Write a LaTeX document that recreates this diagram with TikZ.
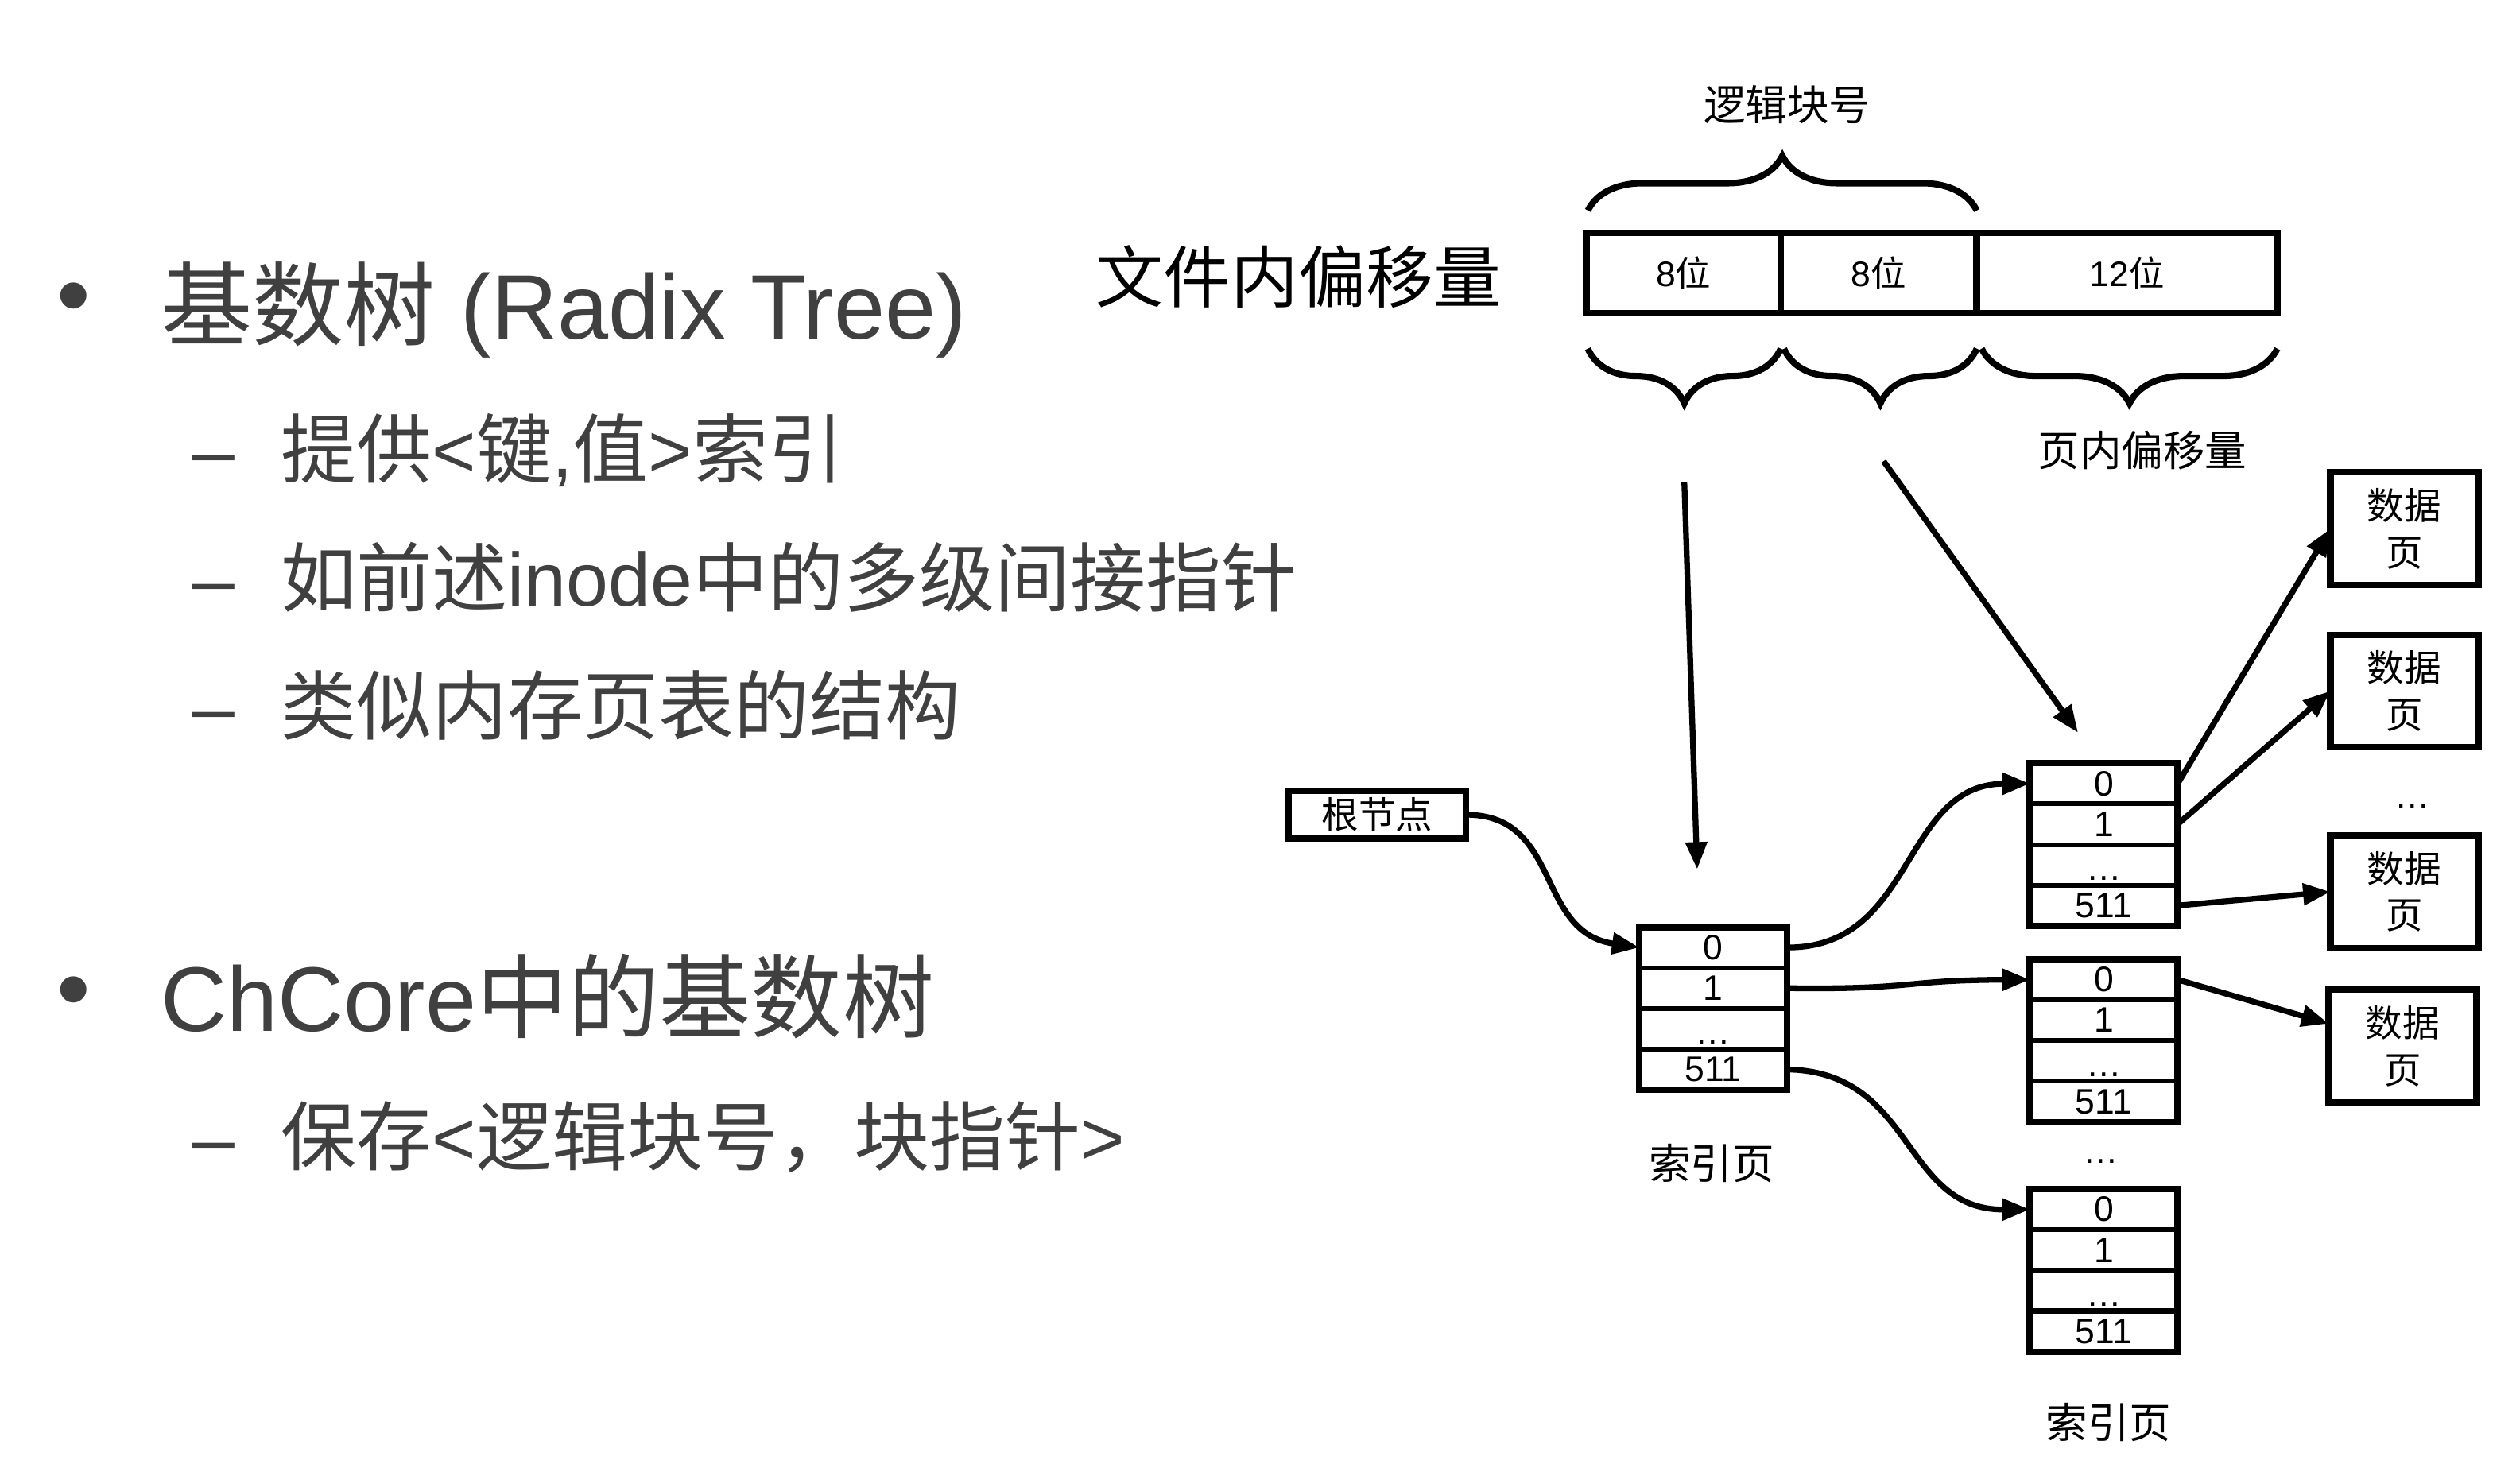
\documentclass[tikz,border=0pt]{standalone}
\usepackage{fontspec}
\setmainfont{Liberation Sans}
\newfontfamily\cjk{Noto Sans CJK SC}
\usetikzlibrary{arrows.meta,decorations.pathreplacing,calc}
\definecolor{txtgray}{HTML}{404040}
\newcommand\fs[1]{\fontsize{#1}{#1}\selectfont}
\newcommand\idxpage[3]{%
  \node[cell] (#1-0) at (#2,{#3+12.65}) {0};
  \node[cell] (#1-1) at (#2,{#3+37.95}) {1};
  \node[cell] (#1-d) at (#2,{#3+63.25}) {};
  \node[cell] (#1-511) at (#2,{#3+88.55}) {511};
  \node[font=\fs{22}, anchor=base] (#1-dots) at ($(#1-d.south)+(0,-3)$) {…};
  \draw[frame] (#1-0.north west) rectangle (#1-511.south east);
}
\begin{document}
\begin{tikzpicture}[x=1pt,y=-1pt,
  every node/.style={inner sep=0pt, outer sep=0pt},
  cell/.style={draw, line width=3pt, minimum width=92pt, minimum height=25.3pt, font=\fs{22}},
  frame/.style={draw, line width=4pt},
  bits/.style={draw, line width=4.2pt, minimum height=50pt, font=\fs{22}},
  dpage/.style={draw, line width=4pt, minimum width=92pt, minimum height=70pt, align=center, font=\cjk\fs{23}, execute at begin node=\setlength{\baselineskip}{29pt}},
  conn/.style={line width=3.6pt, -{Triangle[length=17pt,width=13pt]}},
  brc/.style={line width=4pt, decorate, decoration={brace, amplitude=34pt}},
  bul/.style={text=txtgray, anchor=base west},
  lbl/.style={font=\cjk\fs{26}}]
\useasboundingbox (0,0) rectangle (1568,915.6);

% ---------- left text ----------
\node[text=txtgray, font=\fs{60}] (b1dot) at (46,190) {•};
\node[bul, font=\fs{57}] (t1) at (100,211) {{\cjk 基数树} (Radix Tree)};
\node[bul, font=\fs{47}] (s1dash) at (120,297) {–};
\node[bul, font=\fs{47}] (s1) at (175,297) {{\cjk 提供}<{\cjk 键},{\cjk 值}>{\cjk 索引}};
\node[bul, font=\fs{47}] (s2dash) at (120,377) {–};
\node[bul, font=\fs{47}] (s2) at (175,377) {{\cjk 如前述}inode{\cjk 中的多级间接指针}};
\node[bul, font=\fs{47}] (s3dash) at (120,457) {–};
\node[bul, font=\fs{47}] (s3) at (175,457) {\cjk 类似内存页表的结构};
\node[text=txtgray, font=\fs{60}] (b2dot) at (46,622) {•};
\node[bul, font=\fs{57}] (t2) at (100,642) {ChCore{\cjk 中的基数树}};
\node[bul, font=\fs{47}] (s4dash) at (120,725) {–};
\node[bul, font=\fs{47}] (s4) at (175,725) {{\cjk 保存}<{\cjk 逻辑块号，块指针}>};

% ---------- bit layout ----------
\node[font=\cjk\fs{42}] (fileoff) at (808,172) {文件内偏移量};
\node[bits, minimum width=121pt] (bA) at (1047.5,170) {8{\cjk 位}};
\node[bits, minimum width=122pt] (bB) at (1169,170) {8{\cjk 位}};
\node[bits, minimum width=187pt] (bC) at (1323.5,170) {12{\cjk 位}};
\draw[brc] (988,131) -- (1230,131);
\node[lbl] (lblk) at (1112,65) {逻辑块号};
\draw[brc, decoration={mirror}] (988,217) -- (1108,217);
\draw[brc, decoration={mirror}] (1110,217) -- (1230,217);
\draw[brc, decoration={mirror}] (1233,217) -- (1417,217);
\node[lbl] (pgoff) at (1333,280) {页内偏移量};

% ---------- tree ----------
\node[draw, line width=4pt, minimum width=110pt, minimum height=30pt, font=\cjk\fs{23}] (root) at (857,507) {根节点};
\idxpage{p1}{1066}{577}
\node[lbl] (lp1) at (1065,724) {索引页};
\idxpage{p2}{1309}{475}
\idxpage{p3}{1309}{597}
\node[font=\fs{22}, anchor=base] (gapdots) at (1307,724) {…};
\idxpage{p4}{1309}{740}
\node[lbl] (lp4) at (1312,885) {索引页};

\node[dpage] (d1) at (1496,329) {数据\\页};
\node[dpage] (d2) at (1496,430) {数据\\页};
\node[font=\fs{22}, anchor=base] (ddots) at (1501,503) {…};
\node[dpage] (d3) at (1496,555) {数据\\页};
\node[dpage] (d4) at (1495,651) {数据\\页};

\coordinate (a1s) at (1048,300);
\coordinate (a1e) at (1056,541);
\coordinate (a2s) at (1172,287);
\coordinate (a2e) at (1293,456);
\draw[conn] (a1s) -- (a1e);
\draw[conn] (a2s) -- (a2e);

\draw[conn] (root.east) .. controls (972,507) and (955,580) .. (p1-0.west);
\draw[conn] (p1-0.east) .. controls (1192,590) and (1183,488) .. (p2-0.west);
\draw[conn] (p1-1.east) .. controls (1192,616) and (1183,610) .. (p3-0.west);
\draw[conn] (p1-511.east) .. controls (1192,667) and (1183,753) .. (p4-0.west);

\draw[conn] (p2-0.east) -- (d1.west);
\draw[conn] (p2-1.east) -- (d2.west);
\draw[conn] (p2-511.east) -- (d3.west);
\draw[conn] (p3-0.east) -- ($(d4.north west)!0.3!(d4.south west)$);
\end{tikzpicture}
\end{document}
